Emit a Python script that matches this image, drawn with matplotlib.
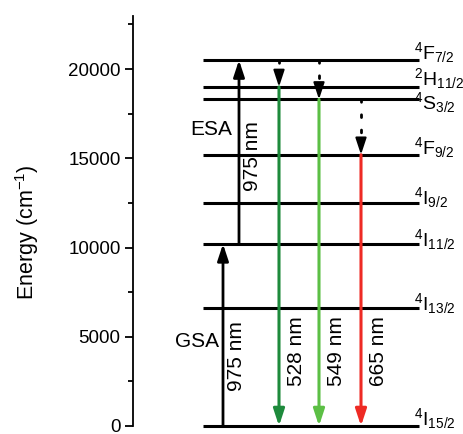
import matplotlib
matplotlib.use('Agg')
import matplotlib.pyplot as plt

plt.rcParams['font.family'] = ['Liberation Sans', 'DejaVu Sans']
plt.rcParams['mathtext.fontset'] = 'custom'
plt.rcParams['mathtext.rm'] = 'Liberation Sans'
plt.rcParams['mathtext.it'] = 'Liberation Sans:italic'

# energy levels of Er3+ (cm-1)
levels = [0, 6600, 10200, 12500, 15200, 18300, 19000, 20500]
level_names = [r'$^{4}$I$_{15/2}$', r'$^{4}$I$_{13/2}$', r'$^{4}$I$_{11/2}$',
               r'$^{4}$I$_{9/2}$', r'$^{4}$F$_{9/2}$', r'$^{4}$S$_{3/2}$',
               r'$^{2}$H$_{11/2}$', r'$^{4}$F$_{7/2}$']
# baseline shift of each level name (cm-1)
name_offsets = [55, -85, -140, -85, 30, -520, 90, 30]

# absorption: GSA and ESA (975 nm)
abs_start = [0, 10200]
abs_end = [10200, 20500]

# emissions to 4I15/2
emit_start = [19000, 18300, 15200]
emit_wl = ['528 nm', '549 nm', '665 nm']
emit_colors = ['#1e8a3c', '#5cbf45', '#ee2a24']

# non radiative relaxations
nr_start = [20500, 20500, 18300]
nr_end = [19000, 18300, 15200]

# horizontal layout (arbitrary units)
lev_x0, lev_x1 = 70, 286
abs_x = [90, 106]
emit_x = [146, 186, 228]

fig = plt.figure(figsize=(4.63, 4.34), dpi=100)
ax = fig.add_axes([133 / 463, 8 / 434, 330 / 463, 410.5 / 434])
ax.set_xlim(0, 330)
ax.set_ylim(0, 23000)

for e, name, off in zip(levels, level_names, name_offsets):
    ax.plot([lev_x0, lev_x1], [e, e], color='black', lw=2.2, clip_on=False,
            solid_capstyle='butt')
    ax.text(281, e + off, name, fontsize=14, ha='left', va='baseline')

head = dict(arrowstyle='-|>,head_length=1.0,head_width=0.33', mutation_scale=10,
            shrinkA=0, shrinkB=0)

for x, e0, e1 in zip(abs_x, abs_start, abs_end):
    ax.annotate('', xy=(x, e1), xytext=(x, e0),
                arrowprops=dict(color='black', lw=2.0, **head), annotation_clip=False)
ax.text(86, 4740, 'GSA', fontsize=15, ha='right', va='center')
ax.text(78, 16600, 'ESA', fontsize=15, ha='center', va='center')
ax.text(104, 3900, '975 nm', fontsize=15, rotation=90, ha='center', va='center')
ax.text(119, 15150, '975 nm', fontsize=15, rotation=90, ha='center', va='center')

for x, e0, wl, c in zip(emit_x, emit_start, emit_wl, emit_colors):
    ax.annotate('', xy=(x, 0), xytext=(x, e0),
                arrowprops=dict(color=c, lw=2.2, **head), annotation_clip=False)
    ax.text(x + 17, 4200, wl, fontsize=15, rotation=90, ha='center', va='center')

# dotted relaxations above the emission columns
head_len = 780
for x, e0, e1 in zip(emit_x, nr_start, nr_end):
    ax.plot([x, x], [e0, e1 + head_len], color='black', lw=2.0,
            linestyle=(0, (1, 4.5)), dash_capstyle='round')
    ax.annotate('', xy=(x, e1), xytext=(x, e1 + head_len),
                arrowprops=dict(color='black', lw=1.5, **head))

for s in ['top', 'right', 'bottom']:
    ax.spines[s].set_visible(False)
ax.spines['left'].set_linewidth(1.3)
ax.set_xticks([])
ax.set_yticks([0, 5000, 10000, 15000, 20000])
ax.set_yticks(range(2500, 23000, 5000), minor=True)
ax.tick_params(axis='y', which='major', direction='out', length=6, width=1.3,
               labelsize=13.5, pad=3)
ax.tick_params(axis='y', which='minor', direction='out', length=3.5, width=1.3)
ax.set_ylabel(r'Energy (cm$^{-1}$)', fontsize=15.5)
ax.yaxis.set_label_coords(-0.28, 0.471)

fig.savefig('out.png', dpi=100)
